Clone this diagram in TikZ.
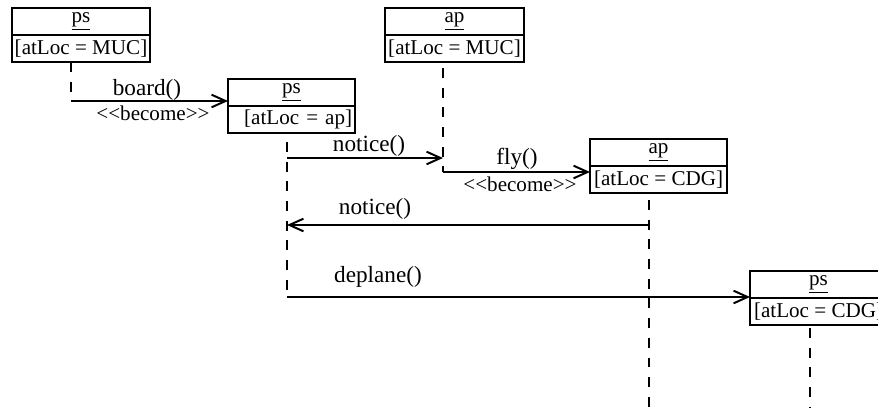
\documentclass[tikz,border=0pt]{standalone}
\usepackage{fontspec}
\setmainfont{Liberation Serif}
\usetikzlibrary{positioning,arrows.meta}

\tikzset{
  objname/.style={draw, line width=1.3pt, outer sep=0pt, inner sep=2pt,
    minimum height=0.675cm, font=\fontsize{15}{18}\selectfont},
  objattr/.style={objname},
  lifeline/.style={line width=2pt, dash pattern=on 7pt off 7pt},
  msg/.style={line width=1.4pt, -{Straight Barb[length=10pt,width=9pt]}},
  msglbl/.style={anchor=base, inner sep=0pt, font=\fontsize{16.5}{19}\selectfont},
  stereo/.style={anchor=base, inner sep=0pt, font=\fontsize{15}{18}\selectfont},
}
\newcommand{\become}{<\kern0pt<become>\kern0pt>}

\begin{document}
\begin{tikzpicture}[x=0.025cm,y=-0.025cm]
  \useasboundingbox (0,0) rectangle (878,408);
  \clip (0,0) rectangle (878,408);

  % objects
  \node[objname, anchor=north west, minimum width=3.45cm] (ps1) at (12,8) {\underline{ps}};
  \node[objattr, below=0pt of ps1, minimum width=3.45cm] (ps1a) {[atLoc = MUC]};
  \node[objname, anchor=north west, minimum width=3.175cm] (ps2) at (228,79) {\underline{ps}};
  \node[objattr, below=0pt of ps2, text width=3.03cm, align=right] (ps2a) {[atLoc = ap]};
  \node[objname, anchor=north west, minimum width=3.475cm] (ap1) at (385,8) {\underline{ap}};
  \node[objattr, below=0pt of ap1, minimum width=3.475cm] (ap1a) {[atLoc = MUC]};
  \node[objname, anchor=north west, minimum width=3.425cm] (ap2) at (590,139) {\underline{ap}};
  \node[objattr, below=0pt of ap2, minimum width=3.425cm] (ap2a) {[atLoc = CDG]};
  \node[objname, anchor=north west, minimum width=3.425cm] (ps3) at (750,271) {\underline{ps}};
  \node[objattr, below=0pt of ps3, minimum width=3.425cm] (ps3a) {[atLoc = CDG]};

  % lifelines
  \coordinate (b1) at (71,101);
  \coordinate (f1) at (443,172);
  \coordinate (d1) at (287,297);
  \draw[lifeline] (ps1a.south -| b1) -- (b1);
  \draw[lifeline] (287,142) -- (d1);
  \draw[lifeline] (443,68) -- (f1);
  \draw[lifeline] (649,200) -- (649,408);
  \draw[lifeline] (810,328) -- (810,408);

  % messages
  \coordinate (n1) at (287,158);
  \coordinate (n2) at (649,225);
  \draw[msg] (b1) -- (b1 -| ps2.west);
  \draw[msg] (n1) -- (n1 -| f1);
  \draw[msg] (f1) -- (f1 -| ap2.west);
  \draw[msg] (n2) -- (n2 -| d1);
  \draw[msg] (d1) -- (d1 -| ps3.west);

  \node[msglbl] (board) at (147,95) {board()};
  \node[stereo] (bec1) at (153,120) {\become};
  \node[msglbl] (notice1) at (369,151) {notice()};
  \node[msglbl] (fly) at (517,164) {fly()};
  \node[stereo] (bec2) at (520,191) {\become};
  \node[msglbl] (notice2) at (375,214) {notice()};
  \node[msglbl] (deplane) at (378,282) {deplane()};
\end{tikzpicture}
\end{document}
